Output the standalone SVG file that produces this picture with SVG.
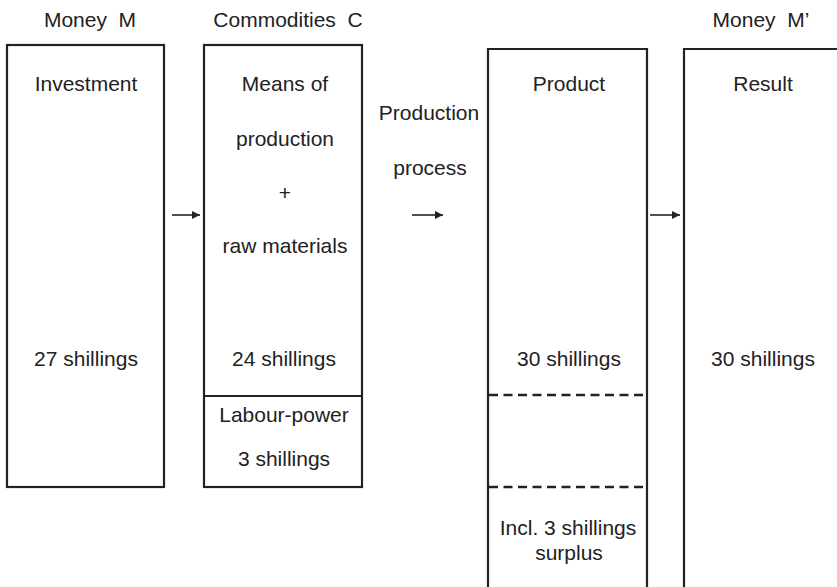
<svg xmlns="http://www.w3.org/2000/svg" width="837" height="587" viewBox="0 0 837 587">
<style>
text{font-family:"Liberation Sans",Arial,sans-serif;font-size:21px;fill:#222;text-anchor:middle}
.box{fill:none;stroke:#222;stroke-width:2.2}
.div{stroke:#222;stroke-width:2}
.dash{stroke:#222;stroke-width:2.5;stroke-dasharray:9 5.5}
.arr{stroke:#222;stroke-width:1.6;fill:none}
</style>
<defs>
<marker id="ah" viewBox="0 0 10 10" refX="10" refY="5" markerWidth="8" markerHeight="8" markerUnits="userSpaceOnUse" orient="auto">
<path d="M0,0 L10,5 L0,10 z" fill="#222"/>
</marker>
</defs>
<rect width="837" height="587" fill="#fff"/>
<text x="90" y="27" xml:space="preserve">Money  M</text>
<text x="288" y="27" xml:space="preserve">Commodities  C</text>
<text x="761" y="27" xml:space="preserve">Money  M’</text>
<g id="money-m">
<rect class="box" x="7" y="45" width="157" height="442"/>
<text x="86" y="91">Investment</text>
<text x="86" y="366">27 shillings</text>
</g>
<g id="commodities-c">
<rect class="box" x="204" y="45" width="158" height="442"/>
<line class="div" x1="204" y1="396" x2="362" y2="396"/>
<text x="285" y="91">Means of</text>
<text x="285" y="146">production</text>
<text x="285" y="200">+</text>
<text x="285" y="253">raw materials</text>
<text x="284" y="366">24 shillings</text>
<text x="284" y="422">Labour-power</text>
<text x="284" y="466">3 shillings</text>
</g>
<g id="production-process">
<text x="429" y="120">Production</text>
<text x="430" y="175">process</text>
</g>
<g id="product">
<path class="box" d="M488,600 V49 H647 V600"/>
<line class="dash" x1="489" y1="395" x2="647" y2="395"/>
<line class="dash" x1="489" y1="487" x2="647" y2="487"/>
<text x="569" y="91">Product</text>
<text x="569" y="366">30 shillings</text>
<text x="568" y="535">Incl. 3 shillings</text>
<text x="569" y="560">surplus</text>
</g>
<g id="money-m2">
<path class="box" d="M684,600 V49 H845 V600"/>
<text x="763" y="91">Result</text>
<text x="763" y="366">30 shillings</text>
</g>
<g id="connectors">
<line class="arr" x1="172" y1="215" x2="200" y2="215" marker-end="url(#ah)"/>
<line class="arr" x1="412" y1="215" x2="443" y2="215" marker-end="url(#ah)"/>
<line class="arr" x1="650" y1="215" x2="680" y2="215" marker-end="url(#ah)"/>
</g>
</svg>
